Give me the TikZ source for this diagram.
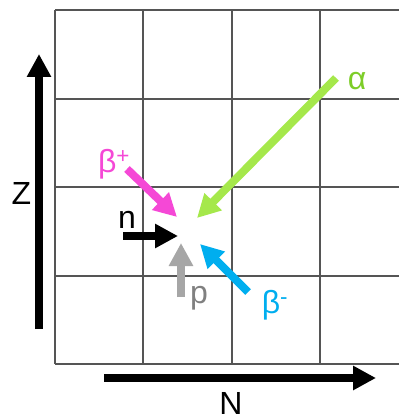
\documentclass[tikz,border=0pt]{standalone}
\usepackage{fontspec}
\setmainfont{Liberation Sans}
\usetikzlibrary{arrows.meta}
\definecolor{gridc}{RGB}{85,85,85}
\definecolor{alphac}{RGB}{165,232,75}
\definecolor{alphat}{RGB}{125,205,40}
\definecolor{betap}{RGB}{245,72,214}
\definecolor{betam}{RGB}{0,174,239}
\definecolor{protc}{RGB}{166,166,166}
\definecolor{prott}{RGB}{128,128,128}
\tikzset{
  fat/.style={line width=8pt,-{Triangle[length=23pt,width=23pt]}},
  lab/.style={font=\fontsize{32pt}{32pt}\selectfont, inner sep=0pt}
}
\begin{document}
\begin{tikzpicture}[x=1pt,y=-1pt]
\useasboundingbox (0,0) rectangle (398,414);
\fill[white] (0,0) rectangle (398,414);
% grid
\draw[gridc, line width=1.3pt] (55,10) -- (400,10);
\foreach \y in {99,187,276,364} \draw[gridc, line width=1.3pt] (55,\y) -- (400,\y);
\foreach \x in {55,143,232,320} \draw[gridc, line width=1.3pt] (\x,10) -- (\x,364);
% axes
\coordinate (z0) at (39,329);
\coordinate (z1) at (39,54);
\coordinate (n0) at (104,378);
\coordinate (n1) at (376,378);
\draw[fat] (z0) -- (z1);
\draw[fat] (n0) -- (n1);
\node[lab] (Z) at (21.5,193.5) {Z};
\node[lab] (N) at (231,403) {N};
% decay arrows
\coordinate (a0) at (336,78);
\coordinate (a1) at (197,218);
\coordinate (bp0) at (127,169);
\coordinate (bp1) at (177,217);
\coordinate (nn0) at (123,236);
\coordinate (nn1) at (178,236);
\coordinate (p0) at (181,297);
\coordinate (p1) at (181,243);
\coordinate (bm0) at (248,292);
\coordinate (bm1) at (200,244);
\draw[fat, alphac] (a0) -- (a1);
\draw[fat, betap] (bp0) -- (bp1);
\draw[fat, black] (nn0) -- (nn1);
\draw[fat, protc] (p0) -- (p1);
\draw[fat, betam] (bm0) -- (bm1);
\node[lab, text=alphat] (la) at (357,81) {α};
\node[lab, text=betap] (lbp) at (114,164) {β\textsuperscript{+}};
\node[lab] (ln) at (127,219.5) {n};
\node[lab, text=prott] (lp) at (199,298) {p};
\node[lab, text=betam] (lbm) at (275,305) {β\textsuperscript{-}};
\end{tikzpicture}
\end{document}
